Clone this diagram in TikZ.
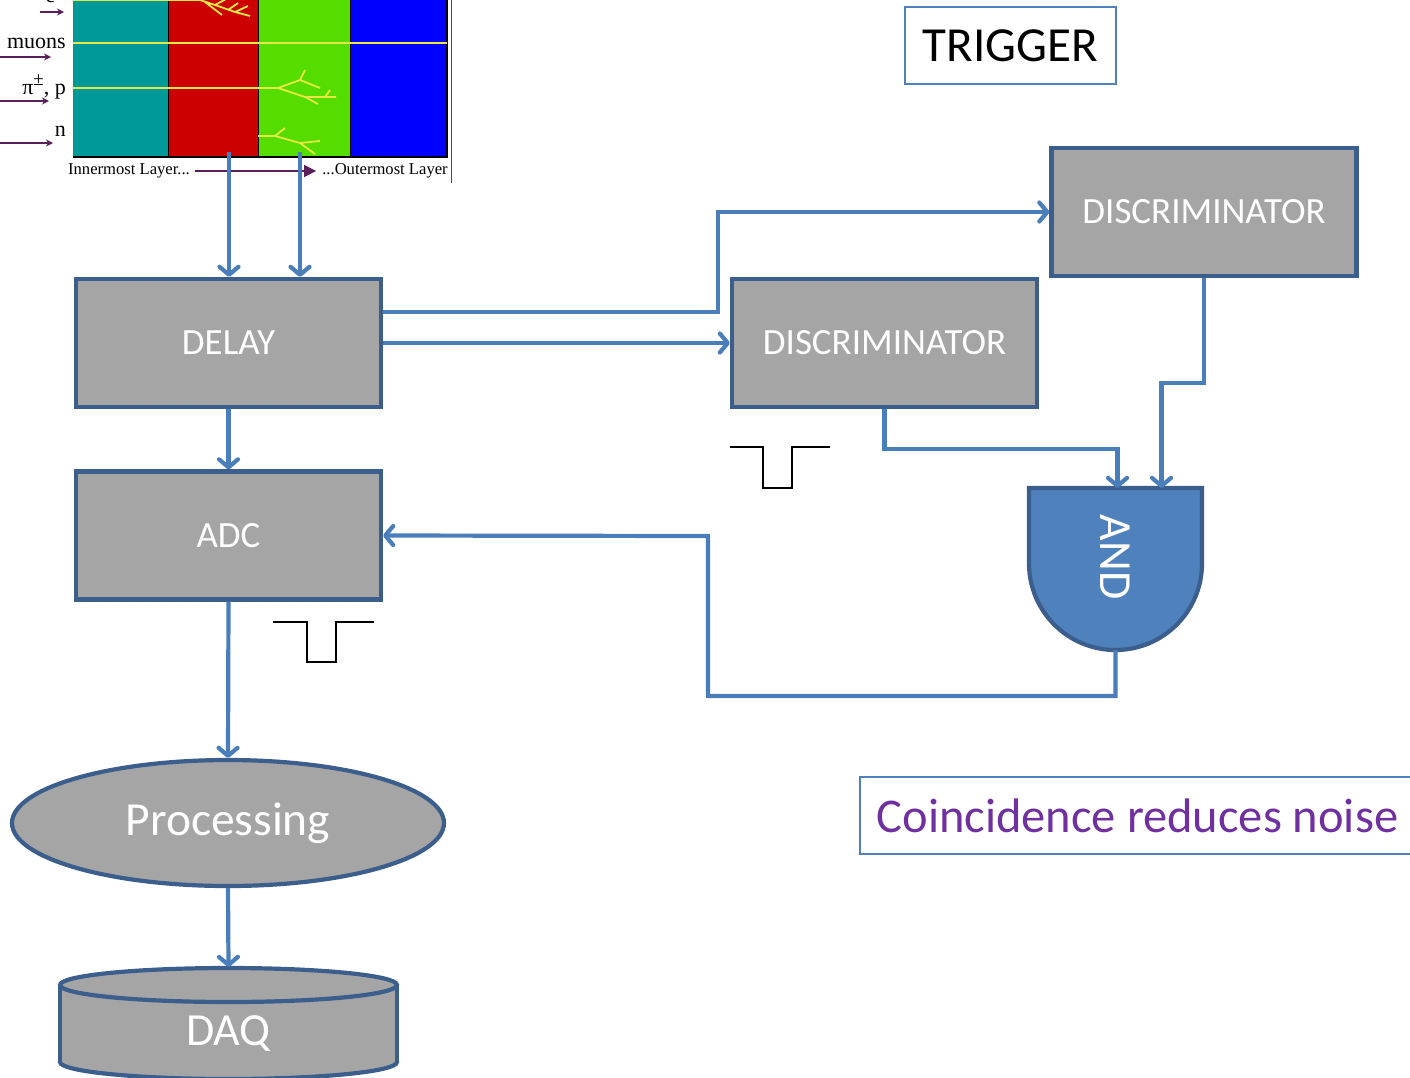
\documentclass[tikz,border=0pt]{standalone}
\usepackage{fontspec}
\setmainfont{Carlito}
\newfontfamily\labelfont{Liberation Serif}
\usetikzlibrary{arrows.meta,shapes.geometric}
\definecolor{boxfill}{HTML}{A5A5A5}
\definecolor{boxline}{HTML}{3B5E8C}
\definecolor{wire}{HTML}{4A7EBB}
\definecolor{gatefill}{HTML}{4F81BD}
\definecolor{note}{HTML}{7030A0}
\definecolor{track}{HTML}{E6E845}
\definecolor{particle}{HTML}{5A1E5A}
\definecolor{layerA}{HTML}{009999}
\definecolor{layerB}{HTML}{CC0000}
\definecolor{layerC}{HTML}{55DD00}
\definecolor{layerD}{HTML}{0000FF}
\newcommand{\pmsup}{\raisebox{0.38em}{\fontsize{19}{19}\selectfont ±}}
\tikzset{
  block/.style={draw=boxline, line width=4.2pt, fill=boxfill, text=white,
    font=\fontsize{37}{40}\selectfont, minimum width=305pt, minimum height=128pt, inner sep=0pt},
  wire/.style={draw=wire, line width=4.2pt, -{Straight Barb[length=8pt,width=19pt,round]}},
  framebox/.style={draw=gatefill, line width=1.6pt, inner sep=0pt, minimum height=77pt},
  pulse/.style={draw=black, line width=1.4pt},
  tracks/.style={draw=track, line width=1.8pt},
  particlearrow/.style={draw=particle, line width=1.5pt, -{Stealth[length=7pt,width=7pt]}},
  detlabel/.style={font=\labelfont\fontsize{22}{24}\selectfont, inner sep=0pt}
}
\begin{document}
\begin{tikzpicture}[x=1pt,y=-1pt]
\useasboundingbox (0,0) rectangle (1410,1077);

% ---------- calorimeter sketch ----------
\fill[layerA] (73,-5) rectangle (168,157);
\fill[layerB] (168,-5) rectangle (258,157);
\fill[layerC] (258,-5) rectangle (350,157);
\fill[layerD] (350,-5) rectangle (447,157);
\draw[black, line width=0.8pt] (168,-5) -- (168,157) (258,-5) -- (258,157) (350,-5) -- (350,157);
\draw[black, line width=2.5pt] (73,157) -- (448,157);
\draw[black, line width=1.5pt] (447,-5) -- (447,157);
\draw[black!70, line width=1pt] (451,-5) -- (451,183);
% particle tracks
\draw[tracks] (73,0) -- (200,0);
\draw[tracks] (200,0) -- (215,5) -- (235,12) -- (250,16) (215,5) -- (228,-2) (228,10) -- (238,3) (235,12) -- (248,6) (205,2) -- (222,15);
\draw[tracks] (73,43) -- (447,43);
\draw[tracks] (73,88) -- (278,88) -- (300,80) -- (305,70) (300,80) -- (320,88)
  (278,88) -- (305,97) -- (336,97) (305,97) -- (318,104) (325,97) -- (330,90);
\draw[tracks] (258,136) -- (275,136) -- (285,128) (275,136) -- (300,143) -- (315,154) (300,143) -- (320,141);
% particle labels
\node[detlabel, anchor=base east] (lblE) at (66,2) {e\pmsup};
\draw[particlearrow] (40,12) -- (64,12);
\node[detlabel, anchor=base east] (lblMu) at (66,48) {muons};
\draw[particlearrow] (0,57) -- (51,57);
\node[detlabel, anchor=base east] (lblPi) at (66,94) {π\pmsup, p};
\draw[particlearrow] (0,101) -- (49,101);
\node[detlabel, anchor=base east] (lblN) at (66,136) {n};
\draw[particlearrow] (0,143) -- (53,143);
\node[font=\labelfont\fontsize{16.6}{18}\selectfont, inner sep=0pt] (inner) at (129,171) {Innermost Layer...};
\node[font=\labelfont\fontsize{16.6}{18}\selectfont, inner sep=0pt] (outer) at (385,171) {...Outermost Layer};
\draw[draw=particle, line width=1.5pt, -{Triangle[length=12pt,width=12pt]}] (inner.east) ++(5,0) -- ([xshift=-6pt]outer.west);
\coordinate (tapA) at (229,152);
\coordinate (tapB) at (300,152);

% ---------- processing chain ----------
\node[block] (delay) at (228.5,343) {DELAY};
\node[block] (adc) at (228.5,535.5) {ADC};
\node[block] (discA) at (884.5,343) {DISCRIMINATOR};
\node[block] (discB) at (1204,212) {DISCRIMINATOR};
\node[ellipse, draw=boxline, line width=4.2pt, fill=boxfill, text=white,
  font=\fontsize{47.5}{50}\selectfont, minimum width=432pt, minimum height=126pt, inner sep=0pt]
  (proc) at (228,823) {Processing};

% data acquisition store
\filldraw[fill=boxfill, draw=boxline, line width=4.2pt] (228.5,1062) ellipse [x radius=168.5pt, y radius=17pt];
\fill[boxfill] (60,985) rectangle (397,1062);
\draw[boxline, line width=4.2pt] (60,985) -- (60,1062) (397,985) -- (397,1062);
\filldraw[fill=boxfill, draw=boxline, line width=4.2pt] (228.5,985) ellipse [x radius=168.5pt, y radius=17pt];
\node[text=white, font=\fontsize{46}{50}\selectfont] (daq) at (228.5,1034) {DAQ};
\coordinate (daqtop) at (228.5,967);

% coincidence gate
\node[minimum width=173pt, minimum height=162pt, inner sep=0pt, outer sep=0pt] (andg) at (1115.5,569) {};
\filldraw[fill=gatefill, draw=boxline, line width=4.2pt]
  (andg.north west) -- (andg.north east) -- ([yshift=86.5pt]andg.south east)
  .. controls ([yshift=38.7pt]andg.south east) and ([xshift=47.8pt]andg.south) .. (andg.south)
  .. controls ([xshift=-47.8pt]andg.south) and ([yshift=38.7pt]andg.south west) .. ([yshift=86.5pt]andg.south west)
  -- cycle;
\node[rotate=-90, text=white, font=\fontsize{46}{50}\selectfont] (andtext) at (1115,557) {AND};

% labels
\node[framebox, minimum width=211pt, font=\fontsize{49}{52}\selectfont] (trigger) at (1010.5,45.5) {TRIGGER};
\node[framebox, minimum width=555pt, text=note, font=\fontsize{48.5}{52}\selectfont] (noise) at (1137.5,815.5) {Coincidence reduces noise};

% pulse shapes
\draw[pulse] (730,447) -- (763,447) -- (763,488) -- (792,488) -- (792,447) -- (830,447);
\draw[pulse] (273,622) -- (307,622) -- (307,662) -- (336,662) -- (336,622) -- (374,622);

% ---------- connectors ----------
\draw[wire] (tapA) -- (tapA |- delay.north);
\draw[wire] (tapB) -- (tapB |- delay.north);
\draw[wire] (delay.south) -- (adc.north);
\draw[wire] ([yshift=31pt]delay.east) -- ++(335,0) |- (discB.west);
\draw[wire] (delay.east) -- (discA.west);
\draw[wire] (discA.south) -- ++(0,40) -| ([xshift=2pt]andg.north);
\draw[wire] (discB.south) -- ++(0,105) -| ([xshift=46pt]andg.north);
\draw[wire] (andg.south) -- ++(0,46) -| (708,536) -- (adc.east);
\draw[wire] (adc.south) -- (proc.north);
\draw[wire] (proc.south) -- (daqtop);
\end{tikzpicture}
\end{document}
